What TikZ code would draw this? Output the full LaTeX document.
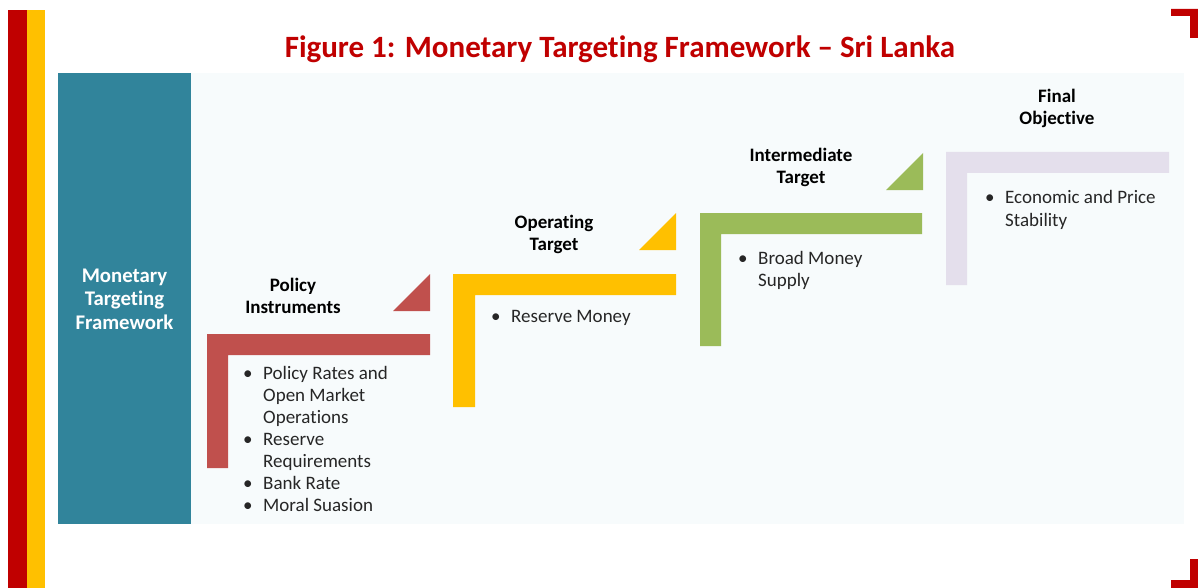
\documentclass[tikz,border=0pt]{standalone}
\usepackage{fontspec}
\setmainfont[Ligatures={NoCommon,TeX}]{Carlito}
\definecolor{barred}{HTML}{C00000}
\definecolor{baryellow}{HTML}{FFC000}
\definecolor{tealbox}{HTML}{31849B}
\definecolor{panelbg}{HTML}{F7FBFC}
\definecolor{lred}{HTML}{C0504D}
\definecolor{lyellow}{HTML}{FFC000}
\definecolor{lgreen}{HTML}{9BBB59}
\definecolor{llav}{HTML}{E4DFEC}
\definecolor{txt}{HTML}{262626}
\tikzset{
  heading/.style={anchor=base, align=center, font=\fontsize{19}{22}\selectfont\bfseries, text=black, inner sep=0pt},
  bullets/.style={anchor=base west, inner sep=0pt, text=txt, font=\fontsize{19}{22}\selectfont},
}
\newcommand{\blist}[1]{\begin{tabular}[t]{@{}p{20pt}@{}l@{}}#1\end{tabular}}
\begin{document}
\begin{tikzpicture}[x=1pt,y=-1pt]
\useasboundingbox (0,0) rectangle (1198,588);
\fill[white] (0,0) rectangle (1198,588);
% side bars
\fill[barred] (8,10) rectangle (26.5,588);
\fill[baryellow] (26.5,10) rectangle (45,588);
% corner brackets
\fill[barred] (1171,9) -- (1198,9) -- (1198,38) -- (1190,38) -- (1190,16) -- (1171,16) -- cycle;
\fill[barred] (1171,588) -- (1198,588) -- (1198,559) -- (1190,559) -- (1190,580) -- (1171,580) -- cycle;
% title
\node[anchor=base, inner sep=0pt, text=barred, font=\fontsize{31}{32}\selectfont\bfseries] (title) at (620,58) {Figure 1: Monetary Targeting Framework – Sri Lanka};
% panel
\fill[panelbg] (191,73) rectangle (1184,524);
\fill[tealbox] (58,73) rectangle (191,524);
\node[anchor=base, align=center, inner sep=0pt, text=white, font=\fontsize{20.8}{23.5}\selectfont\bfseries] (mtf) at (124.5,329) {Monetary\\Targeting\\Framework};
% red step
\fill[lred] (207,334) -- (430,334) -- (430,355) -- (228,355) -- (228,468) -- (207,468) -- cycle;
\fill[lred] (393,311) -- (430,311) -- (430,274) -- cycle;
\node[heading] (h1) at (293,313) {Policy\\Instruments};
\node[bullets] (b1) at (243,379) {\blist{\textbullet & Policy Rates and\\ & Open Market\\ & Operations\\ \textbullet & Reserve\\ & Requirements\\ \textbullet & Bank Rate\\ \textbullet & Moral Suasion}};
% yellow step
\fill[lyellow] (453,274) -- (676,274) -- (676,295) -- (475,295) -- (475,407) -- (453,407) -- cycle;
\fill[lyellow] (639,250) -- (676,250) -- (676,213) -- cycle;
\node[heading] (h2) at (554,250) {Operating\\Target};
\node[bullets] (b2) at (491,322) {\blist{\textbullet & Reserve Money}};
% green step
\fill[lgreen] (700,213) -- (922,213) -- (922,234) -- (721,234) -- (721,346) -- (700,346) -- cycle;
\fill[lgreen] (886,190) -- (923,190) -- (923,153) -- cycle;
\node[heading] (h3) at (801,183) {Intermediate\\Target};
\node[bullets] (b3) at (738,264) {\blist{\textbullet & Broad Money\\ & Supply}};
% lavender step
\fill[llav] (946,152) -- (1169,152) -- (1169,173) -- (967,173) -- (967,285) -- (946,285) -- cycle;
\node[heading] (h4) at (1057,125) {Final\\Objective};
\node[bullets] (b4) at (985,204) {\blist{\textbullet & Economic and Price\\ & Stability}};
\end{tikzpicture}
\end{document}
